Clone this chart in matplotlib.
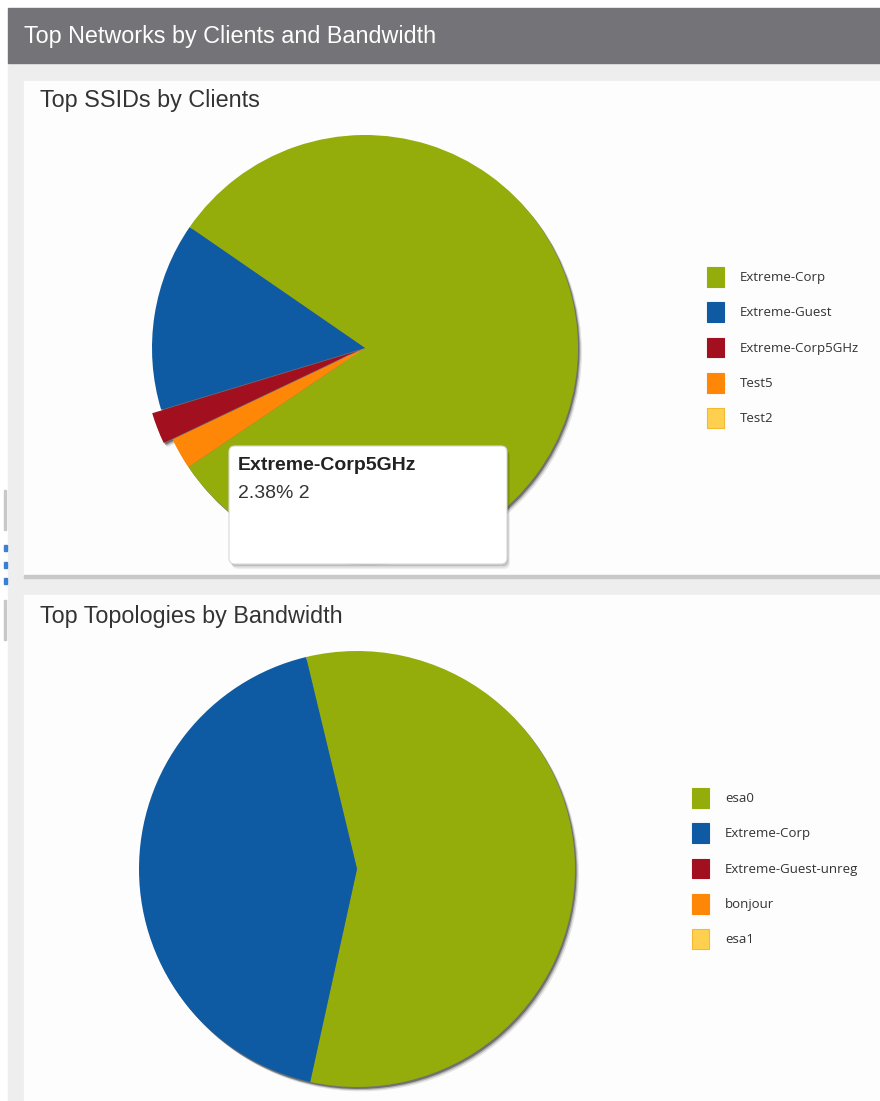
import numpy as np
import matplotlib
matplotlib.use("Agg")
import matplotlib.pyplot as plt
from matplotlib.patches import Rectangle, Wedge, FancyBboxPatch

plt.rcParams['font.family'] = ['Liberation Sans', 'DejaVu Sans']

# data
ssid_names = ['Extreme-Corp', 'Extreme-Guest', 'Extreme-Corp5GHz', 'Test5', 'Test2']
ssid_clients = [68, 12, 2, 2, 0]

topo_names = ['esa0', 'Extreme-Corp', 'Extreme-Guest-unreg', 'bonjour', 'esa1']
topo_bandwidth = [57.2, 42.8, 0, 0, 0]

colors = ['#94ad0b', '#0f5ba3', '#a20f1f', '#ff8708', '#ffd050']
edge_cols = ['#94ad0b', '#0f5ba3', '#a20f1f', '#ff8708', '#f5b830']

W, H = 880, 1101
fig = plt.figure(figsize=(W / 100, H / 100), dpi=100)

# page background, header bar and the two white panels
bg = fig.add_axes([0, 0, 1, 1], zorder=0)
bg.set_xlim(0, W)
bg.set_ylim(H, 0)
bg.axis('off')
bg.add_patch(Rectangle((0, 0), W, H, color='white'))
bg.add_patch(Rectangle((8, 63), W - 8, H - 63, color='#eeeeee'))
bg.add_patch(Rectangle((8, 8), W - 8, 55, color='#747478'))
bg.add_patch(Rectangle((24, 81), W - 24, 494, color='#fdfdfd'))
bg.add_patch(Rectangle((24, 575), W - 24, 3, color='#c8c8c8'))
bg.add_patch(Rectangle((24, 595), W - 24, H - 595, color='#fdfdfd'))
bg.add_patch(Rectangle((4, 490), 2, 40, color='#c8c8c8'))
bg.add_patch(Rectangle((4, 600), 2, 40, color='#c8c8c8'))
for yy in (545, 562, 578):
    bg.add_patch(Rectangle((4, yy), 3, 6, color='#3a7fd0'))

bg.text(24, 36, 'Top Networks by Clients and Bandwidth', color='white',
        fontsize=16.8, va='center', ha='left')
bg.text(40, 101, 'Top SSIDs by Clients', color='#333333',
        fontsize=16.8, va='center', ha='left')
bg.text(40, 616, 'Top Topologies by Bandwidth', color='#333333',
        fontsize=16.8, va='center', ha='left')


def draw_pie(cx, cy, r, values, startangle, explode, names, leg_xy):
    span = 2.5 * r
    ax = fig.add_axes([(cx - span / 2) / W, (H - cy - span / 2) / H,
                       span / W, span / H], zorder=1)
    wedges, _ = ax.pie(values, colors=colors, startangle=startangle,
                       counterclock=True, explode=explode,
                       wedgeprops=dict(linewidth=0, clip_on=False))
    ax.set_xlim(-1.25, 1.25)
    ax.set_ylim(-1.25, 1.25)
    ax.set_aspect('equal')
    ax.axis('off')
    # soft drop shadow under each slice
    for dx, dy, a in [(0.018, -0.020, 0.12),
                      (0.012, -0.014, 0.25),
                      (0.007, -0.009, 0.45)]:
        for w in wedges:
            if w.theta2 - w.theta1 <= 0:
                continue
            sh = Wedge((w.center[0] + dx, w.center[1] + dy), w.r,
                       w.theta1, w.theta2, facecolor='#222222',
                       edgecolor='none', alpha=a, zorder=0.5, clip_on=False)
            ax.add_patch(sh)
    for w in wedges:
        w.set_zorder(2)
    handles = [Rectangle((0, 0), 1, 1, facecolor=c, edgecolor=e, linewidth=0.8)
               for c, e in zip(colors, edge_cols)]
    fig.legend(handles, names, loc='upper left',
               bbox_to_anchor=(leg_xy[0] / W, 1 - leg_xy[1] / H),
               bbox_transform=fig.transFigure, frameon=False,
               handlelength=1.3, handleheight=1.9,
               labelspacing=1.2, handletextpad=1.2, borderpad=0,
               borderaxespad=0, labelcolor='#333333',
               prop={'family': ['Open Sans', 'DejaVu Sans'], 'size': 9.5})
    return wedges


ssid_explode = [0, 0, 0.045, 0, 0]
draw_pie(365, 348, 213, ssid_clients, -146, ssid_explode, ssid_names, (707, 267))
draw_pie(357, 869, 218, topo_bandwidth, -102.4, None, topo_names, (692, 788))

# tooltip for the highlighted slice
ov = fig.add_axes([0, 0, 1, 1], zorder=3)
ov.set_xlim(0, W)
ov.set_ylim(H, 0)
ov.axis('off')
for d, a in [(5, 0.06), (3.5, 0.09), (2, 0.12)]:
    ov.add_patch(FancyBboxPatch((229 + d * 0.6, 446 + d), 278, 118,
                                boxstyle='round,pad=0,rounding_size=6',
                                facecolor='black', edgecolor='none', alpha=a))
ov.add_patch(FancyBboxPatch((229, 446), 278, 118,
                            boxstyle='round,pad=0,rounding_size=6',
                            facecolor='white', edgecolor='#d8d8d8', linewidth=0.8))
hi = 2
total = sum(ssid_clients)
ov.text(238, 466, ssid_names[hi], fontsize=14, fontweight='bold',
        color='#222222', va='center', ha='left')
ov.text(238, 494, f'{ssid_clients[hi] / total * 100:.2f}% {ssid_clients[hi]}',
        fontsize=14, color='#333333', va='center', ha='left')

fig.savefig('out.png', dpi=100)
